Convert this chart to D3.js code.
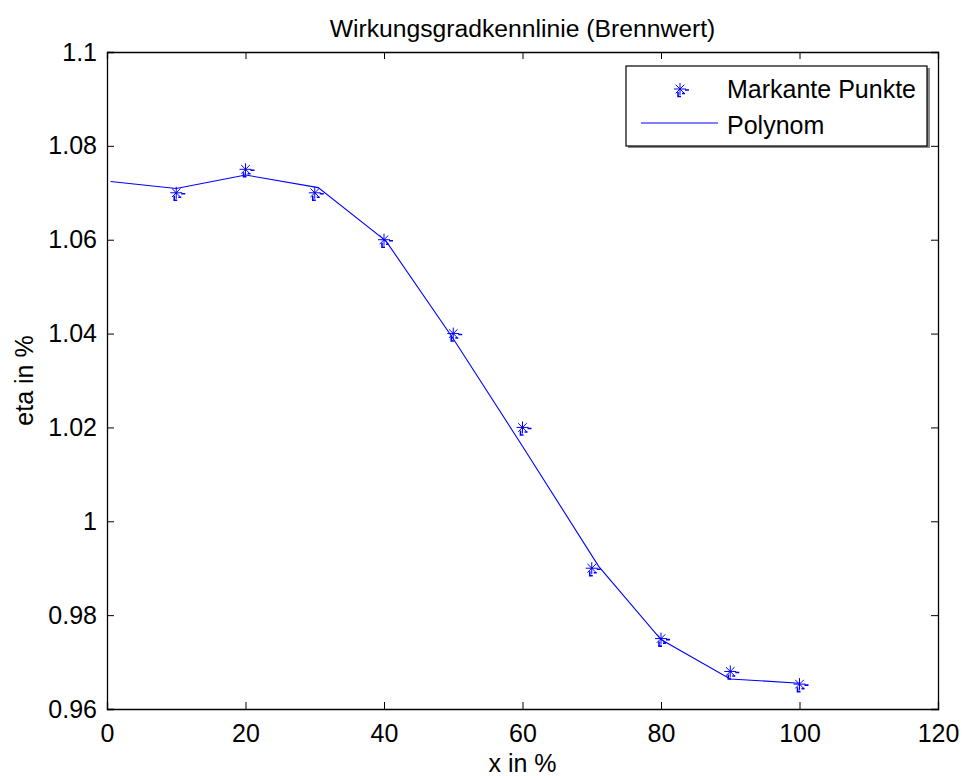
<!DOCTYPE html>
<html>
<head>
<meta charset="utf-8">
<script src="https://cdn.jsdelivr.net/npm/d3@7"></script>
<style>
  html, body { margin: 0; padding: 0; background: #ffffff; }
  svg { display: block; font-family: Arial, 'Liberation Sans', sans-serif; }
</style>
</head>
<body>
<div id="chart"></div>
<script>
/* Wirkungsgradkennlinie (Brennwert) — MATLAB-style line plot */

const POINT_X = [10, 20, 30, 40, 50, 60, 70, 80, 90, 100];
const POINT_Y = [1.070, 1.075, 1.070, 1.060, 1.040, 1.020, 0.990, 0.975, 0.968, 0.9653];

const POLY_X = [0.5, 10, 20, 30.5, 40.3, 50, 60, 71, 80, 90, 100];
const POLY_Y = [1.0724, 1.0709, 1.0738, 1.0711, 1.0597, 1.0389, 1.0160, 0.9904, 0.9748, 0.9664, 0.9655];

const X_TICKS = [0, 20, 40, 60, 80, 100, 120];
const Y_TICKS = [0.96, 0.98, 1.00, 1.02, 1.04, 1.06, 1.08, 1.10];

const W = 963, H = 776;
const M = { left: 107, right: 963 - 938, top: 52, bottom: 776 - 709 };
const BLUE = '#0000ff';
const FS = 25;

const svg = d3.select('#chart').append('svg')
  .attr('width', W).attr('height', H);

const x = d3.scaleLinear().domain([0, 120]).range([M.left, W - M.right]);
const y = d3.scaleLinear().domain([0.96, 1.1]).range([H - M.bottom, M.top]);

const fmtY = v => d3.format('~g')(+v.toFixed(2));

/* ── Axes (ticks inside, box on) ── */
const TL = 7;
const axB = svg.append('g').attr('transform', `translate(0,${y(0.96)})`)
  .call(d3.axisBottom(x).tickValues(X_TICKS).tickSize(-TL).tickPadding(15).tickFormat(d3.format('d')));
const axT = svg.append('g').attr('transform', `translate(0,${y(1.1)})`)
  .call(d3.axisTop(x).tickValues(X_TICKS).tickSize(-TL).tickFormat(''));
const axL = svg.append('g').attr('transform', `translate(${x(0)},0)`)
  .call(d3.axisLeft(y).tickValues(Y_TICKS).tickSize(-TL).tickPadding(10).tickFormat(fmtY));
const axR = svg.append('g').attr('transform', `translate(${x(120)},0)`)
  .call(d3.axisRight(y).tickValues(Y_TICKS).tickSize(-TL).tickFormat(''));

[axB, axT, axL, axR].forEach(g => {
  g.select('.domain').attr('stroke', '#000').attr('stroke-width', 1.3);
  g.selectAll('.tick line').attr('stroke', '#000').attr('stroke-width', 1);
  g.selectAll('text').attr('fill', '#000').attr('font-size', FS + 'px')
    .attr('font-family', "Arial, 'Liberation Sans', sans-serif");
});

/* ── Polynom line ── */
const polyData = POLY_X.map((v, i) => [v, POLY_Y[i]]);
svg.append('path')
  .datum(polyData)
  .attr('fill', 'none')
  .attr('stroke', BLUE)
  .attr('stroke-width', 1.1)
  .attr('d', d3.line().x(d => x(d[0])).y(d => y(d[1])));

/* ── asterisk marker ── */
function star(g, cx, cy) {
  const r = 6, d = 4.3;
  g.append('path')
    .attr('transform', `translate(${cx},${cy})`)
    .attr('fill', 'none')
    .attr('stroke', BLUE)
    .attr('stroke-width', 1)
    .attr('d', `M${-r},0H${r}M0,${-r}V${r}M${-d},${-d}L${d},${d}M${-d},${d}L${d},${-d}`);
  /* rendering artefacts of the original */
  g.append('path')
    .attr('transform', `translate(${cx},${cy})`)
    .attr('fill', 'none')
    .attr('stroke', BLUE)
    .attr('stroke-width', 1.6)
    .attr('d', 'M5,1H9M2,4.5H5M-2,3V7.5H1');
}

const pts = svg.append('g');
POINT_X.forEach((v, i) => star(pts, x(v), y(POINT_Y[i])));

/* ── Title & labels ── */
svg.append('text')
  .attr('x', (x(0) + x(120)) / 2).attr('y', 37)
  .attr('text-anchor', 'middle').attr('font-size', '24.7px')
  .text('Wirkungsgradkennlinie (Brennwert)');

svg.append('text')
  .attr('x', (x(0) + x(120)) / 2).attr('y', 772)
  .attr('text-anchor', 'middle').attr('font-size', FS + 'px')
  .text('x in %');

svg.append('text')
  .attr('transform', `translate(33,${(y(0.96) + y(1.1)) / 2}) rotate(-90)`)
  .attr('text-anchor', 'middle').attr('font-size', FS + 'px')
  .text('eta in %');

/* ── Legend ── */
const lg = svg.append('g');
lg.append('rect')
  .attr('x', 628).attr('y', 68).attr('width', 302).attr('height', 80)
  .attr('fill', '#888');
lg.append('rect')
  .attr('x', 626).attr('y', 66).attr('width', 301).attr('height', 80)
  .attr('fill', '#fff').attr('stroke', '#000').attr('stroke-width', 1.2);
star(lg, 680, 89);
lg.append('text').attr('x', 727).attr('y', 98).attr('font-size', FS + 'px').text('Markante Punkte');
lg.append('line')
  .attr('x1', 641).attr('x2', 718).attr('y1', 123).attr('y2', 123)
  .attr('stroke', BLUE).attr('stroke-width', 1.1);
lg.append('text').attr('x', 727).attr('y', 134).attr('font-size', FS + 'px').text('Polynom');
</script>
</body>
</html>
